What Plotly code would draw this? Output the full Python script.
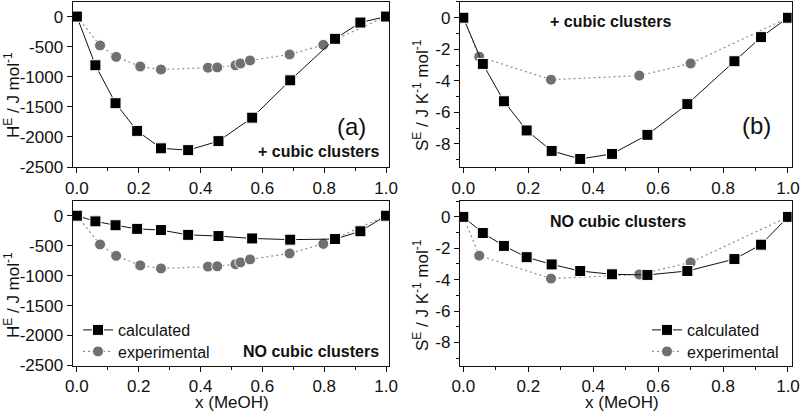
import plotly.graph_objects as go

# ---------------- data ----------------
x_calc = [0.0, 0.06, 0.125, 0.195, 0.272, 0.36, 0.458, 0.567, 0.69, 0.835, 0.917, 1.0]
hE_calc_cubic = [0, -810, -1440, -1900, -2190, -2220, -2070, -1680, -1060, -370, -100, 0]
hE_calc_nocubic = [0, -95, -160, -220, -240, -320, -340, -380, -400, -390, -260, 0]

x_hexp = [0.0, 0.075, 0.127, 0.205, 0.272, 0.424, 0.454, 0.513, 0.529, 0.56, 0.688, 0.797, 1.0]
hE_exp = [0, -480, -670, -830, -880, -850, -845, -810, -780, -730, -630, -470, 0]

sE_calc_cubic = [0, -2.93, -5.3, -7.15, -8.45, -8.96, -8.64, -7.43, -5.48, -2.76, -1.23, 0]
sE_calc_nocubic = [0, -1.03, -1.85, -2.57, -3.03, -3.45, -3.66, -3.7, -3.45, -2.69, -1.77, 0]

x_sexp = [0.0, 0.049, 0.27, 0.542, 0.70, 1.0]
sE_exp = [0, -2.47, -3.93, -3.67, -2.9, 0]

h_ticks = [0, -500, -1000, -1500, -2000, -2500]
s_ticks = [0, -2, -4, -6, -8]
x_ticks = [0.0, 0.2, 0.4, 0.6, 0.8, 1.0]

# ---------------- style ----------------
FONT = "Arial, Liberation Sans, sans-serif"
BLACK = "#111111"
GREY_M = "#707070"
GREY_L = "#8c8c8c"
W, H = 801, 411

def px_x(p):
    return p / W

def px_y(p):
    return 1 - p / H

fig = go.Figure()

panels = [
    ("x", "y", x_calc, hE_calc_cubic, x_hexp, hE_exp, None, None),
    ("x2", "y2", x_calc, sE_calc_cubic, x_sexp, sE_exp, None, None),
    ("x3", "y3", x_calc, hE_calc_nocubic, x_hexp, hE_exp, "legend", "legend2"),
    ("x4", "y4", x_calc, sE_calc_nocubic, x_sexp, sE_exp, "legend3", "legend4"),
]

for xa, ya, xc, yc, xe, ye, leg_c, leg_e in panels:
    show = leg_c is not None
    fig.add_trace(go.Scatter(
        x=xe, y=ye, xaxis=xa, yaxis=ya, mode="lines+markers",
        name="experimental", showlegend=show, legend=leg_e if leg_e else "legend",
        line=dict(color=GREY_L, width=1.2, dash="2px,3px"),
        marker=dict(symbol="circle", size=11, color=GREY_M,
                    line=dict(color="white", width=1)),
    ))
    fig.add_trace(go.Scatter(
        x=xc, y=yc, xaxis=xa, yaxis=ya, mode="lines+markers",
        name="calculated", showlegend=show, legend=leg_c if leg_c else "legend",
        line=dict(color=BLACK, width=1),
        marker=dict(symbol="square", size=11, color="black",
                    line=dict(color="white", width=1)),
    ))

left_dom = [px_x(72.7), px_x(389.3)]
right_dom = [px_x(460), px_x(791.5)]
top_dom = [px_y(167), px_y(1.5)]
bot_dom = [px_y(365.5), px_y(200.7)]

tickfont = dict(family=FONT, size=17, color=BLACK)

def xaxis_cfg(dom, anchor):
    return dict(domain=dom, anchor=anchor, automargin=False,
                range=[-0.0135, 1.0105] if dom == left_dom else [-0.0103, 1.0108],
                tickvals=x_ticks, ticktext=["%.1f" % v for v in x_ticks],
                ticks="outside", ticklen=5, tickwidth=1.2, tickcolor=BLACK,
                minor=dict(dtick=0.1, tick0=0, ticks="outside", ticklen=3, tickwidth=1.2, tickcolor=BLACK),
                showline=True, linecolor=BLACK, linewidth=1.3, mirror=True,
                showgrid=False, zeroline=False, tickfont=tickfont)

def yaxis_h(dom, anchor):
    return dict(domain=dom, anchor=anchor, automargin=False, range=[-2500, 250],
                tickvals=h_ticks, ticktext=[str(v) for v in h_ticks],
                ticks="outside", ticklen=5, tickwidth=1.2, tickcolor=BLACK,
                showline=True, linecolor=BLACK, linewidth=1.3, mirror=True,
                showgrid=False, zeroline=False, tickfont=tickfont)

def yaxis_s(dom, anchor):
    return dict(domain=dom, anchor=anchor, automargin=False, range=[-9.47, 1.03],
                tickvals=s_ticks, ticktext=[str(v) for v in s_ticks],
                ticks="outside", ticklen=5, tickwidth=1.2, tickcolor=BLACK,
                minor=dict(dtick=1, tick0=0, ticks="outside", ticklen=3, tickwidth=1.2, tickcolor=BLACK),
                showline=True, linecolor=BLACK, linewidth=1.3, mirror=True,
                showgrid=False, zeroline=False, tickfont=tickfont)

leg_common = dict(xanchor="left", yanchor="middle", bgcolor="rgba(0,0,0,0)",
                  font=dict(family=FONT, size=16, color=BLACK),
                  itemwidth=30, tracegroupgap=0)

fig.update_layout(
    width=W, height=H, margin=dict(l=0, r=0, t=0, b=0),
    paper_bgcolor="white", plot_bgcolor="white",
    font=dict(family=FONT, size=17, color=BLACK),
    xaxis=xaxis_cfg(left_dom, "y"),
    yaxis=yaxis_h(top_dom, "x"),
    xaxis2=xaxis_cfg(right_dom, "y2"),
    yaxis2=yaxis_s(top_dom, "x2"),
    xaxis3=xaxis_cfg(left_dom, "y3"),
    yaxis3=yaxis_h(bot_dom, "x3"),
    xaxis4=xaxis_cfg(right_dom, "y4"),
    yaxis4=yaxis_s(bot_dom, "x4"),
    legend=dict(x=px_x(78), y=px_y(330), **leg_common),
    legend2=dict(x=px_x(78), y=px_y(351.5), **leg_common),
    legend3=dict(x=px_x(647), y=px_y(330), **leg_common),
    legend4=dict(x=px_x(647), y=px_y(351.5), **leg_common),
)

bold = dict(family=FONT, size=16, color=BLACK)
title_font = dict(family=FONT, size=17, color=BLACK)
hlabel = "H<sup>E</sup> / J mol<sup>-1</sup>"
slabel = "S<sup>E</sup> / J K<sup>-1</sup> mol<sup>-1</sup>"
annots = [
    dict(xref="x", yref="y", x=0.889, y=-1824, text="(a)", font=dict(family=FONT, size=24, color=BLACK),
         showarrow=False, xanchor="center", yanchor="middle"),
    dict(xref="x", yref="y", x=0.985, y=-2250, text="<b>+ cubic clusters</b>", font=bold,
         showarrow=False, xanchor="right", yanchor="middle"),
    dict(xref="x2", yref="y2", x=0.902, y=-6.85, text="(b)", font=dict(family=FONT, size=24, color=BLACK),
         showarrow=False, xanchor="center", yanchor="middle"),
    dict(xref="x2", yref="y2", x=0.452, y=-0.22, text="<b>+ cubic clusters</b>", font=bold,
         showarrow=False, xanchor="center", yanchor="middle"),
    dict(xref="x3", yref="y3", x=0.985, y=-2267, text="<b>NO cubic clusters</b>", font=bold,
         showarrow=False, xanchor="right", yanchor="middle"),
    dict(xref="x4", yref="y4", x=0.475, y=-0.3, text="<b>NO cubic clusters</b>", font=bold,
         showarrow=False, xanchor="center", yanchor="middle"),
    # axis titles
    dict(xref="paper", yref="paper", x=px_x(12), y=px_y(95), text=hlabel, textangle=-90,
         font=title_font, showarrow=False, xanchor="center", yanchor="middle"),
    dict(xref="paper", yref="paper", x=px_x(12), y=px_y(295), text=hlabel, textangle=-90,
         font=title_font, showarrow=False, xanchor="center", yanchor="middle"),
    dict(xref="paper", yref="paper", x=px_x(421), y=px_y(95), text=slabel, textangle=-90,
         font=title_font, showarrow=False, xanchor="center", yanchor="middle"),
    dict(xref="paper", yref="paper", x=px_x(421), y=px_y(295), text=slabel, textangle=-90,
         font=title_font, showarrow=False, xanchor="center", yanchor="middle"),
    dict(xref="paper", yref="paper", x=px_x(232), y=px_y(402), text="x (MeOH)",
         font=title_font, showarrow=False, xanchor="center", yanchor="middle"),
    dict(xref="paper", yref="paper", x=px_x(622), y=px_y(402), text="x (MeOH)",
         font=title_font, showarrow=False, xanchor="center", yanchor="middle"),
]
fig.update_layout(annotations=annots)

fig.write_html("out.html", config={"displayModeBar": False})

# remove default page margin so the figure sits at the window's top-left corner
with open("out.html", "r", encoding="utf-8") as f:
    html = f.read()
html = html.replace("<head>", "<head><style>html,body{margin:0;padding:0;overflow:hidden;}</style>", 1)
with open("out.html", "w", encoding="utf-8") as f:
    f.write(html)
